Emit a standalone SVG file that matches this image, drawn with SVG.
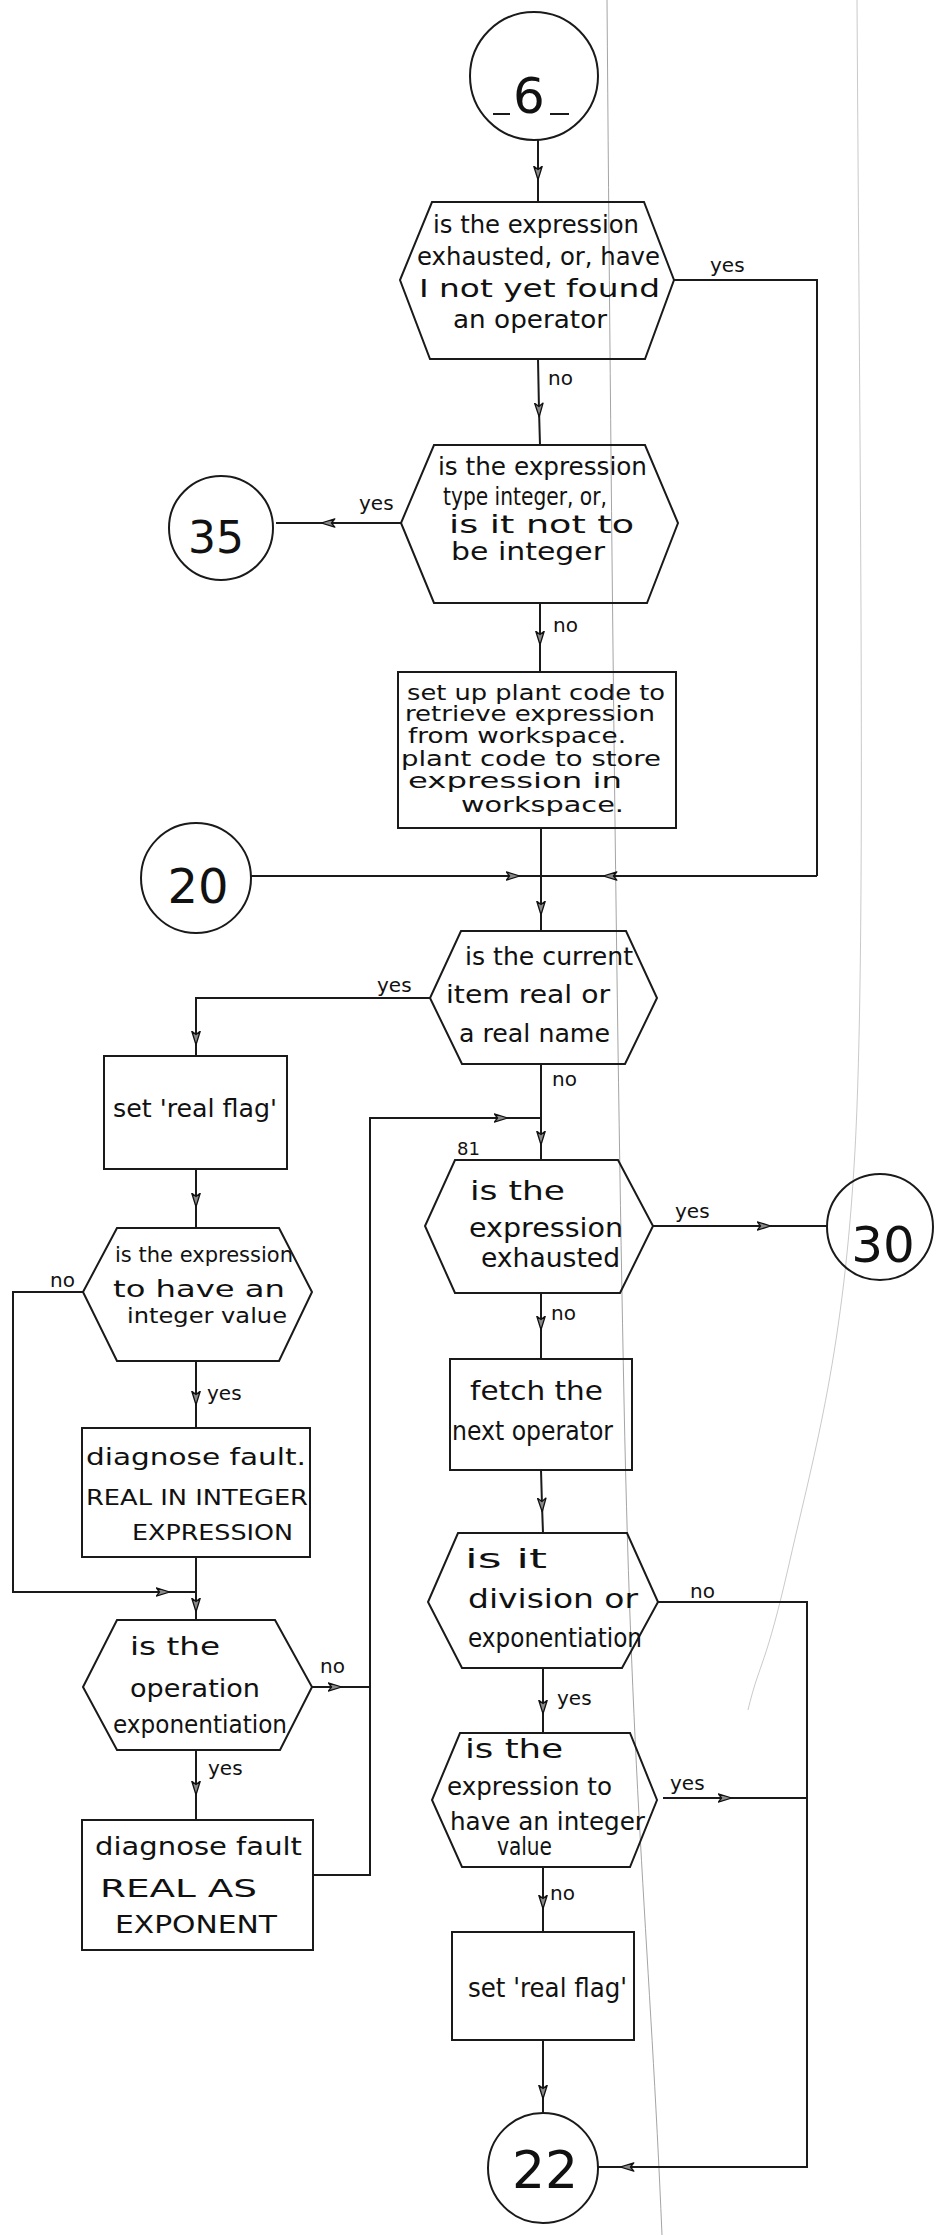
<svg xmlns="http://www.w3.org/2000/svg" width="937" height="2235" viewBox="0 0 937 2235">
<style>
.bg{fill:#fff}
.shape{fill:none;stroke:#1a1a1a;stroke-width:2}
.conn{fill:none;stroke:#1a1a1a;stroke-width:2}
.arr{fill:none;stroke:#1a1a1a;stroke-width:2;marker-mid:url(#ah)}
.t{font-family:"DejaVu Sans","Liberation Sans",sans-serif;fill:#111}
.lbl{font-family:"DejaVu Sans","Liberation Sans",sans-serif;font-size:20px;fill:#111}
.num{font-family:"DejaVu Sans","Liberation Sans",sans-serif;fill:#111;text-anchor:middle}
.art{fill:none;stroke:#9a9a9a;stroke-width:0.9}
</style>
<defs>
<marker id="ah" viewBox="0 0 15 10" refX="7.5" refY="5" markerWidth="15" markerHeight="10" markerUnits="userSpaceOnUse" orient="auto">
<path d="M0.7,0.8 L14.3,5 L0.7,9.2 L4,5 Z" fill="#8a8a8a" stroke="#111" stroke-width="1.3" stroke-linejoin="round"/>
</marker>
</defs>
<rect class="bg" x="0" y="0" width="937" height="2235"/>
<g id="artifacts">
<path class="art" d="M607,0 C611,500 616,1000 624,1400 S650,1950 662,2235"/>
<path class="art" opacity="0.6" d="M857,0 C860,500 866,950 855,1150 S815,1450 790,1560 S760,1660 748,1710"/>
</g>
<g id="connectors">
<path class="arr" d="M538,140 L538,173 L538,202"/>
<path class="arr" d="M538,359 L539,410 L540,445"/>
<path class="conn" d="M674,280 H817 V876"/>
<path class="arr" d="M817,876 L610,876 L541,876"/>
<path class="arr" d="M401,523 L328,523 L276,523"/>
<path class="arr" d="M540,603 L540,638 L540,672"/>
<path class="arr" d="M251,876 L513,876 L541,876"/>
<path class="arr" d="M541,828 L541,908 L541,931"/>
<path class="conn" d="M430,998 H196 V1038"/>
<path class="arr" d="M196,1020 L196,1038 L196,1056"/>
<path class="arr" d="M541,1064 L541,1138 L541,1160"/>
<path class="arr" d="M196,1169 L196,1200 L196,1228"/>
<path class="conn" d="M83,1292 H13 V1592 H160"/>
<path class="arr" d="M140,1592 L163,1592 L196,1592"/>
<path class="arr" d="M196,1361 L196,1398 L196,1428"/>
<path class="arr" d="M196,1557 L196,1605 L196,1620"/>
<path class="arr" d="M312,1687 L335,1687 L370,1687"/>
<path class="arr" d="M196,1750 L196,1788 L196,1820"/>
<path class="conn" d="M313,1875 H370 V1118 H480"/>
<path class="arr" d="M470,1118 L501,1118 L541,1118"/>
<path class="arr" d="M653,1226 L764,1226 L827,1226"/>
<path class="arr" d="M541,1293 L541,1323 L541,1359"/>
<path class="arr" d="M541,1470 L542,1505 L543,1533"/>
<path class="conn" d="M658,1602 H807 V2167 H640"/>
<path class="arr" d="M650,2167 L627,2167 L598,2167"/>
<path class="arr" d="M543,1668 L543,1707 L543,1733"/>
<path class="arr" d="M663,1798 L725,1798 L807,1798"/>
<path class="arr" d="M543,1867 L543,1902 L543,1932"/>
<path class="arr" d="M543,2040 L543,2092 L543,2113"/>
</g>
<g id="labels">
<text class="lbl" x="710" y="272">yes</text>
<text class="lbl" x="548" y="385">no</text>
<text class="lbl" x="359" y="510">yes</text>
<text class="lbl" x="553" y="632">no</text>
<text class="lbl" x="377" y="992">yes</text>
<text class="lbl" x="552" y="1086">no</text>
<text class="lbl" x="50" y="1287">no</text>
<text class="lbl" x="207" y="1400">yes</text>
<text class="lbl" x="320" y="1673">no</text>
<text class="lbl" x="208" y="1775">yes</text>
<text class="lbl" x="675" y="1218">yes</text>
<text class="lbl" x="551" y="1320">no</text>
<text class="lbl" x="690" y="1598">no</text>
<text class="lbl" x="557" y="1705">yes</text>
<text class="lbl" x="670" y="1790">yes</text>
<text class="lbl" x="550" y="1900">no</text>
</g>
<g id="c6">
<circle class="shape" cx="534" cy="76" r="64"/>
<line class="conn" x1="493" y1="114" x2="510" y2="114" stroke-width="1.2"/>
<line class="conn" x1="550" y1="114" x2="569" y2="114" stroke-width="1.2"/>
<text class="num" x="529" y="113" font-size="50">6</text>
</g>
<g id="d_exhausted_or_operator">
<polygon class="shape" points="432,202 644,202 674,280 645,359 430,359 400,280"/>
<text class="t" font-size="25" x="433" y="233" textLength="206" lengthAdjust="spacingAndGlyphs">is the expression</text>
<text class="t" font-size="25" x="417" y="265" textLength="243" lengthAdjust="spacingAndGlyphs">exhausted, or, have</text>
<text class="t" font-size="25" x="419" y="297" textLength="241" lengthAdjust="spacingAndGlyphs">I not  yet found</text>
<text class="t" font-size="25" x="453" y="328" textLength="154" lengthAdjust="spacingAndGlyphs">an operator</text>
</g>
<g id="c35">
<circle class="shape" cx="221" cy="528" r="52"/>
<text class="num" x="216" y="553" font-size="44">35</text>
</g>
<g id="d_type_integer">
<polygon class="shape" points="434,445 645,445 678,523 647,603 434,603 401,523"/>
<text class="t" font-size="25" x="438" y="475" textLength="209" lengthAdjust="spacingAndGlyphs">is the expression</text>
<text class="t" font-size="25" x="443" y="505" textLength="164" lengthAdjust="spacingAndGlyphs">type integer, or,</text>
<text class="t" font-size="25" x="449" y="533" textLength="185" lengthAdjust="spacingAndGlyphs">is  it  not  to</text>
<text class="t" font-size="25" x="451" y="560" textLength="154" lengthAdjust="spacingAndGlyphs">be integer</text>
</g>
<g id="b_plant_code">
<rect class="shape" x="398" y="672" width="278" height="156"/>
<text class="t" font-size="21" x="407" y="700" textLength="258" lengthAdjust="spacingAndGlyphs">set up plant code to</text>
<text class="t" font-size="21" x="405" y="721" textLength="250" lengthAdjust="spacingAndGlyphs">retrieve expression</text>
<text class="t" font-size="21" x="408" y="743" textLength="218" lengthAdjust="spacingAndGlyphs">from workspace.</text>
<text class="t" font-size="21" x="401" y="766" textLength="260" lengthAdjust="spacingAndGlyphs">plant code to store</text>
<text class="t" font-size="21" x="408" y="788" textLength="214" lengthAdjust="spacingAndGlyphs">expression  in</text>
<text class="t" font-size="21" x="461" y="812" textLength="163" lengthAdjust="spacingAndGlyphs">workspace.</text>
</g>
<g id="c20">
<circle class="shape" cx="196" cy="878" r="55"/>
<text class="num" x="198" y="903" font-size="48">20</text>
</g>
<g id="d_current_item">
<polygon class="shape" points="461,931 626,931 657,998 625,1064 462,1064 430,998"/>
<text class="t" font-size="25" x="465" y="965" textLength="168" lengthAdjust="spacingAndGlyphs">is the current</text>
<text class="t" font-size="25" x="446" y="1003" textLength="164" lengthAdjust="spacingAndGlyphs">item real or</text>
<text class="t" font-size="25" x="459" y="1042" textLength="151" lengthAdjust="spacingAndGlyphs">a real name</text>
</g>
<g id="b_real_flag_1">
<rect class="shape" x="104" y="1056" width="183" height="113"/>
<text class="t" font-size="25" x="113" y="1117" textLength="164" lengthAdjust="spacingAndGlyphs">set 'real flag'</text>
</g>
<g id="d_integer_value_1">
<polygon class="shape" points="117,1228 279,1228 312,1292 279,1361 117,1361 83,1292"/>
<text class="t" font-size="22" x="115" y="1262" textLength="178" lengthAdjust="spacingAndGlyphs">is the expression</text>
<text class="t" font-size="23" x="113" y="1297" textLength="172" lengthAdjust="spacingAndGlyphs">to have  an</text>
<text class="t" font-size="22" x="127" y="1323" textLength="160" lengthAdjust="spacingAndGlyphs">integer value</text>
</g>
<g id="b_fault_integer">
<rect class="shape" x="82" y="1428" width="228" height="129"/>
<text class="t" font-size="23" x="86" y="1465" textLength="220" lengthAdjust="spacingAndGlyphs">diagnose fault.</text>
<text class="t" font-size="22" x="86" y="1505" textLength="222" lengthAdjust="spacingAndGlyphs">REAL IN INTEGER</text>
<text class="t" font-size="22" x="132" y="1540" textLength="161" lengthAdjust="spacingAndGlyphs">EXPRESSION</text>
</g>
<g id="d_exponentiation_1">
<polygon class="shape" points="117,1620 275,1620 312,1687 280,1750 117,1750 83,1687"/>
<text class="t" font-size="25" x="130" y="1655" textLength="90" lengthAdjust="spacingAndGlyphs">is the</text>
<text class="t" font-size="25" x="130" y="1697" textLength="130" lengthAdjust="spacingAndGlyphs">operation</text>
<text class="t" font-size="24" x="113" y="1733" textLength="174" lengthAdjust="spacingAndGlyphs">exponentiation</text>
</g>
<g id="b_fault_exponent">
<rect class="shape" x="82" y="1820" width="231" height="130"/>
<text class="t" font-size="25" x="95" y="1855" textLength="207" lengthAdjust="spacingAndGlyphs">diagnose fault</text>
<text class="t" font-size="25" x="100" y="1897" textLength="157" lengthAdjust="spacingAndGlyphs">REAL AS</text>
<text class="t" font-size="24" x="115" y="1933" textLength="162" lengthAdjust="spacingAndGlyphs">EXPONENT</text>
</g>
<g id="d_exhausted_81">
<text class="t" font-size="18" x="457" y="1155">81</text>
<polygon class="shape" points="455,1160 618,1160 653,1226 620,1293 455,1293 425,1226"/>
<text class="t" font-size="27" x="470" y="1200" textLength="95" lengthAdjust="spacingAndGlyphs">is the</text>
<text class="t" font-size="26" x="469" y="1237" textLength="154" lengthAdjust="spacingAndGlyphs">expression</text>
<text class="t" font-size="26" x="481" y="1267" textLength="139" lengthAdjust="spacingAndGlyphs">exhausted</text>
</g>
<g id="c30">
<circle class="shape" cx="880" cy="1227" r="53"/>
<text class="num" x="883" y="1262" font-size="50">30</text>
</g>
<g id="b_fetch">
<rect class="shape" x="450" y="1359" width="182" height="111"/>
<text class="t" font-size="27" x="470" y="1400" textLength="133" lengthAdjust="spacingAndGlyphs">fetch the</text>
<text class="t" font-size="26" x="452" y="1440" textLength="161" lengthAdjust="spacingAndGlyphs">next operator</text>
</g>
<g id="d_division">
<polygon class="shape" points="458,1533 627,1533 658,1602 622,1668 462,1668 428,1602"/>
<text class="t" font-size="27" x="465" y="1568" textLength="82" lengthAdjust="spacingAndGlyphs">is it</text>
<text class="t" font-size="27" x="468" y="1608" textLength="170" lengthAdjust="spacingAndGlyphs">division or</text>
<text class="t" font-size="26" x="468" y="1647" textLength="174" lengthAdjust="spacingAndGlyphs">exponentiation</text>
</g>
<g id="d_integer_value_2">
<polygon class="shape" points="460,1733 630,1733 657,1800 630,1867 462,1867 432,1800"/>
<text class="t" font-size="26" x="465" y="1758" textLength="98" lengthAdjust="spacingAndGlyphs">is  the</text>
<text class="t" font-size="24" x="447" y="1795" textLength="165" lengthAdjust="spacingAndGlyphs">expression to</text>
<text class="t" font-size="24" x="450" y="1830" textLength="195" lengthAdjust="spacingAndGlyphs">have an integer</text>
<text class="t" font-size="24" x="497" y="1855" textLength="55" lengthAdjust="spacingAndGlyphs">value</text>
</g>
<g id="b_real_flag_2">
<rect class="shape" x="452" y="1932" width="182" height="108"/>
<text class="t" font-size="27" x="468" y="1997" textLength="159" lengthAdjust="spacingAndGlyphs">set 'real flag'</text>
</g>
<g id="c22">
<circle class="shape" cx="543" cy="2168" r="55"/>
<text class="num" x="545" y="2188" font-size="52">22</text>
</g>
</svg>
